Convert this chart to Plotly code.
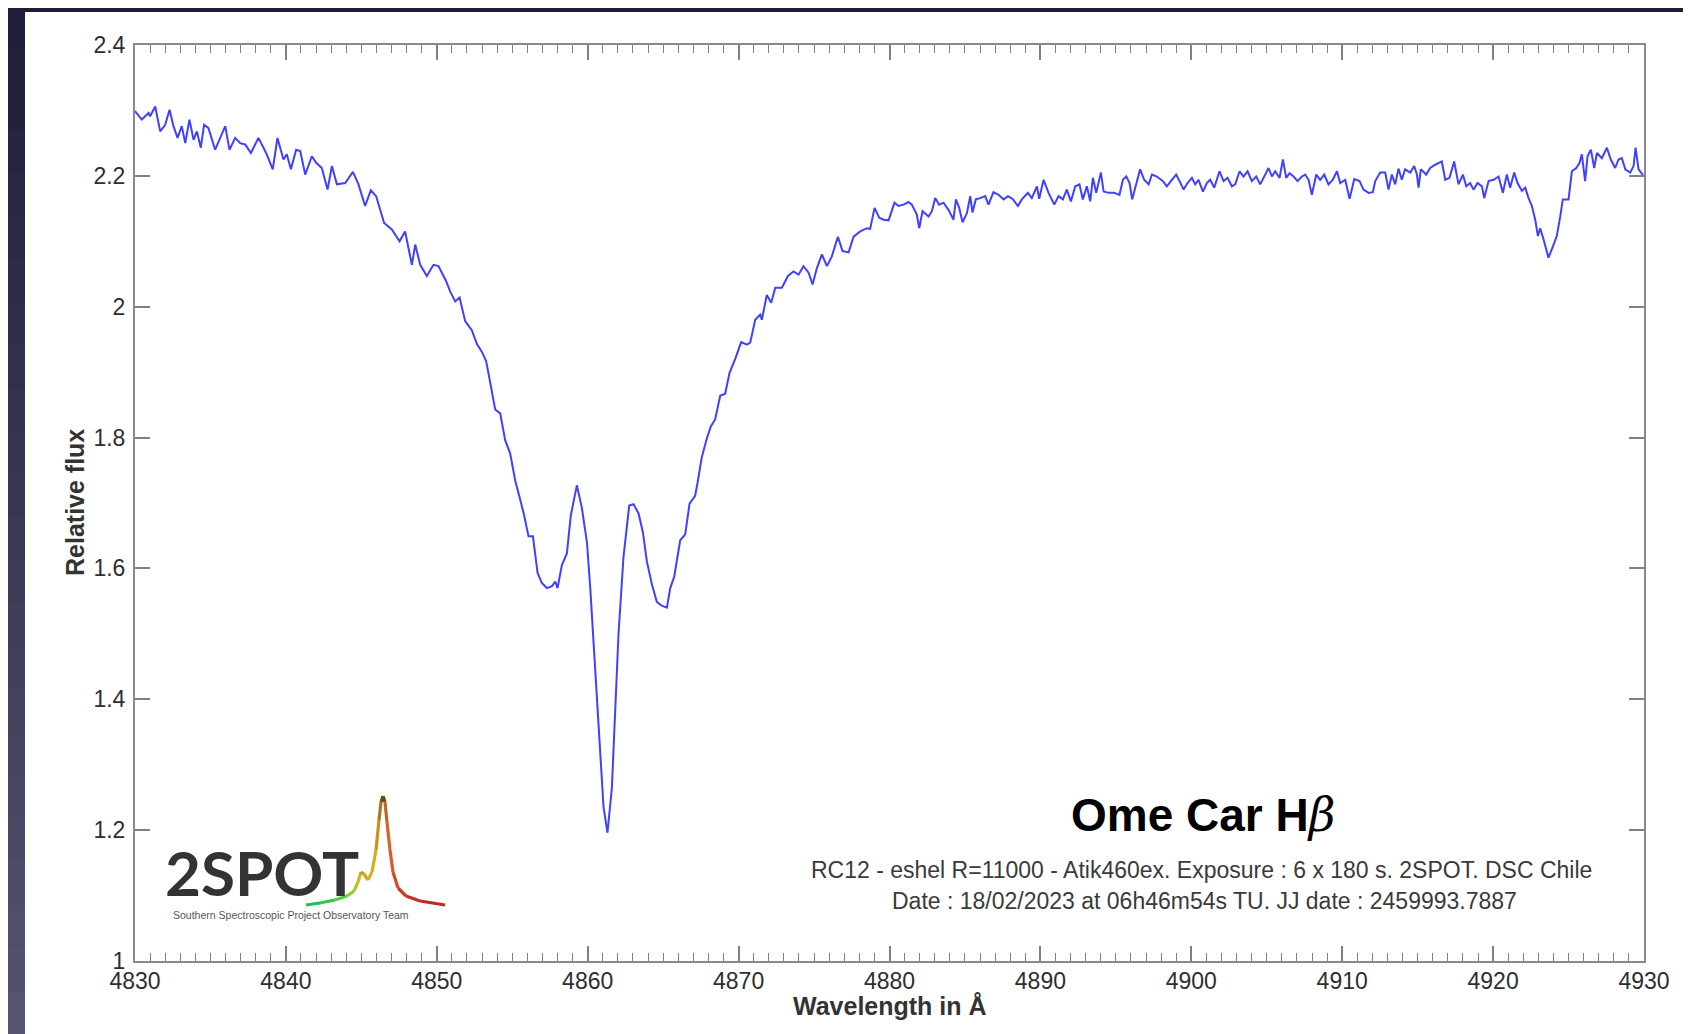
import plotly.graph_objects as go

# ---------------- data ----------------
wavelength = [
    4830.0, 4830.45, 4830.9, 4831.0, 4831.34, 4831.67, 4832.0, 4832.29, 4832.55, 4832.82,
    4833.1, 4833.33, 4833.61, 4833.88, 4834.1, 4834.36, 4834.58, 4834.87, 4835.31, 4835.98,
    4836.26, 4836.64, 4836.97, 4837.3, 4837.68, 4838.18, 4838.69, 4839.13, 4839.44, 4839.84,
    4840.06, 4840.33, 4840.68, 4840.95, 4841.28, 4841.72, 4842.01, 4842.38, 4842.76, 4843.05,
    4843.38, 4843.93, 4844.44, 4844.81, 4845.25, 4845.63, 4845.98, 4846.51, 4847.02, 4847.53,
    4847.9, 4848.35, 4848.57, 4848.9, 4849.34, 4849.78, 4850.11, 4850.62,
    4850.89, 4851.22, 4851.51, 4851.88, 4852.32, 4852.66, 4852.99, 4853.27, 4853.54, 4853.87,
    4854.2, 4854.53, 4854.86, 4855.2, 4855.53, 4855.79, 4856.08, 4856.37, 4856.68, 4856.96,
    4857.29, 4857.63, 4857.85, 4858.0, 4858.29, 4858.62, 4858.88, 4859.28, 4859.61, 4859.95,
    4860.17, 4860.43, 4860.72, 4861.05, 4861.31, 4861.6, 4861.82, 4862.04, 4862.37, 4862.75,
    4863.04, 4863.37, 4863.66, 4863.92, 4864.25, 4864.58, 4864.91, 4865.25, 4865.47, 4865.73,
    4866.13, 4866.46, 4866.75, 4867.12, 4867.28, 4867.56, 4867.9, 4868.16, 4868.45, 4868.78,
    4869.11, 4869.4, 4869.77,
    4870.17, 4870.55, 4870.77, 4871.1, 4871.43, 4871.54, 4871.87, 4872.16, 4872.43, 4872.87,
    4873.27, 4873.64, 4873.97, 4874.3, 4874.64, 4874.9, 4875.19, 4875.52, 4875.85, 4876.18,
    4876.58, 4876.89, 4877.29, 4877.62, 4878.06, 4878.5, 4878.72, 4879.01, 4879.32, 4879.61,
    4879.94, 4880.33, 4880.6, 4880.93, 4881.26, 4881.48, 4881.81, 4881.97, 4882.19, 4882.59,
    4882.81, 4883.03, 4883.29, 4883.58, 4883.91, 4884.24, 4884.4, 4884.62, 4884.84, 4885.13,
    4885.35, 4885.5, 4885.72, 4886.01, 4886.34, 4886.56, 4886.89, 4887.23, 4887.56, 4887.85,
    4888.15, 4888.51, 4888.77, 4889.17, 4889.43, 4889.77, 4889.92,
    4890.21, 4890.54, 4890.92, 4891.2, 4891.49, 4891.75, 4892.02, 4892.31, 4892.59, 4892.81,
    4893.08, 4893.3, 4893.48, 4893.7, 4894.01, 4894.19, 4894.52, 4894.89, 4895.24, 4895.47,
    4895.69, 4895.91, 4896.08, 4896.35, 4896.61, 4896.88, 4897.17, 4897.39, 4897.72, 4898.12,
    4898.38, 4898.71, 4899.0, 4899.22, 4899.49, 4899.75, 4900.04, 4900.26, 4900.48, 4900.77,
    4901.03, 4901.25, 4901.52, 4901.87, 4902.14, 4902.4, 4902.69, 4902.91, 4903.2, 4903.46,
    4903.73, 4904.01, 4904.3, 4904.57, 4904.83, 4905.12, 4905.34, 4905.56, 4905.85, 4906.07,
    4906.29, 4906.51, 4906.78, 4907.04, 4907.33, 4907.55, 4907.77, 4907.99, 4908.28, 4908.54,
    4908.81, 4909.09, 4909.38, 4909.65, 4909.87,
    4910.2, 4910.49, 4910.8, 4911.15, 4911.41, 4911.75, 4912.03, 4912.19, 4912.52, 4912.85,
    4913.07, 4913.29, 4913.51, 4913.73, 4913.95, 4914.17, 4914.51, 4914.77, 4914.95, 4915.06,
    4915.21, 4915.57, 4915.83, 4916.16, 4916.45, 4916.6, 4916.83, 4917.11, 4917.42, 4917.71,
    4918.0, 4918.22, 4918.48, 4918.7, 4918.97, 4919.26, 4919.41, 4919.7, 4920.03, 4920.36,
    4920.65, 4920.91, 4921.13, 4921.4, 4921.62, 4921.91, 4922.13, 4922.35, 4922.57, 4922.79,
    4922.97, 4923.12, 4923.34, 4923.67, 4923.96, 4924.22, 4924.45, 4924.62, 4925.0, 4925.22,
    4925.51, 4925.73, 4925.88, 4926.1, 4926.26, 4926.48, 4926.7, 4926.88, 4927.21, 4927.54,
    4927.8, 4928.09, 4928.31, 4928.53, 4928.76, 4929.09, 4929.31, 4929.44, 4929.64, 4929.93,
]

flux = [
    2.299, 2.286, 2.296, 2.291, 2.306, 2.268, 2.278, 2.301, 2.276, 2.258,
    2.276, 2.250, 2.286, 2.255, 2.268, 2.243, 2.278, 2.273, 2.240, 2.276,
    2.240, 2.258, 2.250, 2.248, 2.235, 2.258, 2.235, 2.210, 2.258, 2.225,
    2.233, 2.210, 2.240, 2.238, 2.202, 2.230, 2.220, 2.212, 2.179, 2.215,
    2.187, 2.189, 2.206, 2.187, 2.154, 2.178, 2.169, 2.128, 2.118, 2.100,
    2.115, 2.064, 2.095, 2.064, 2.047, 2.064, 2.062, 2.039,
    2.023, 2.008, 2.014, 1.978, 1.964, 1.943, 1.931, 1.917, 1.884, 1.843,
    1.837, 1.796, 1.776, 1.734, 1.705, 1.681, 1.649, 1.649, 1.593, 1.578,
    1.570, 1.573, 1.580, 1.570, 1.605, 1.623, 1.681, 1.727, 1.693, 1.640,
    1.570, 1.470, 1.352, 1.235, 1.196, 1.264, 1.381, 1.499, 1.617, 1.696,
    1.698, 1.684, 1.655, 1.611, 1.576, 1.549, 1.543, 1.540, 1.570, 1.587,
    1.643, 1.652, 1.699, 1.711, 1.731, 1.770, 1.799, 1.817, 1.828, 1.864,
    1.867, 1.899, 1.920,
    1.946, 1.942, 1.945, 1.980, 1.988, 1.980, 2.018, 2.006, 2.029, 2.029,
    2.047, 2.054, 2.049, 2.062, 2.052, 2.034, 2.059, 2.080, 2.062, 2.077,
    2.107, 2.085, 2.083, 2.107, 2.115, 2.120, 2.119, 2.151, 2.136, 2.133,
    2.132, 2.159, 2.154, 2.156, 2.160, 2.156, 2.141, 2.120, 2.146, 2.138,
    2.146, 2.166, 2.156, 2.159, 2.148, 2.133, 2.164, 2.151, 2.129, 2.143,
    2.169, 2.144, 2.164, 2.166, 2.169, 2.156, 2.175, 2.171, 2.164, 2.169,
    2.165, 2.154, 2.164, 2.174, 2.166, 2.184, 2.165,
    2.194, 2.174, 2.156, 2.169, 2.164, 2.179, 2.161, 2.184, 2.187, 2.164,
    2.184, 2.161, 2.197, 2.174, 2.205, 2.176, 2.174, 2.174, 2.171, 2.194,
    2.199, 2.189, 2.164, 2.189, 2.210, 2.194, 2.187, 2.202, 2.199, 2.192,
    2.184, 2.194, 2.202, 2.192, 2.179, 2.189, 2.197, 2.187, 2.194, 2.176,
    2.189, 2.194, 2.182, 2.207, 2.192, 2.197, 2.184, 2.187, 2.207, 2.199,
    2.207, 2.192, 2.199, 2.187, 2.199, 2.212, 2.199, 2.207, 2.197, 2.225,
    2.197, 2.204, 2.199, 2.192, 2.199, 2.202, 2.194, 2.171, 2.202, 2.194,
    2.202, 2.187, 2.194, 2.207, 2.189,
    2.194, 2.165, 2.195, 2.192, 2.179, 2.174, 2.175, 2.192, 2.205, 2.205,
    2.179, 2.202, 2.187, 2.211, 2.194, 2.210, 2.205, 2.215, 2.202, 2.182,
    2.210, 2.202, 2.212, 2.217, 2.220, 2.222, 2.194, 2.197, 2.222, 2.187,
    2.202, 2.184, 2.189, 2.179, 2.189, 2.184, 2.166, 2.192, 2.194, 2.199,
    2.174, 2.202, 2.182, 2.205, 2.189, 2.177, 2.182, 2.166, 2.154, 2.133,
    2.108, 2.120, 2.103, 2.075, 2.092, 2.108, 2.138, 2.164, 2.164, 2.207,
    2.212, 2.220, 2.233, 2.192, 2.230, 2.240, 2.212, 2.235, 2.227, 2.243,
    2.225, 2.212, 2.225, 2.227, 2.210, 2.205, 2.215, 2.243, 2.210, 2.201,
]

x_range = [4830, 4930]
y_range = [1.0, 2.4]
x_tick_vals = [4830, 4840, 4850, 4860, 4870, 4880, 4890, 4900, 4910, 4920, 4930]
y_tick_vals = [1.0, 1.2, 1.4, 1.6, 1.8, 2.0, 2.2, 2.4]
y_tick_text = ["1", "1.2", "1.4", "1.6", "1.8", "2", "2.2", "2.4"]

title_text = "Ome Car H"
info_line1 = "RC12 - eshel R=11000 - Atik460ex. Exposure : 6 x 180 s. 2SPOT. DSC Chile"
info_line2 = "Date : 18/02/2023 at 06h46m54s TU. JJ date : 2459993.7887"
x_title = "Wavelength in Å"
y_title = "Relative flux"
logo_text = "2SPOT"
logo_subtext = "Southern Spectroscopic Project Observatory Team"

# ---------------- layout geometry ----------------
# The page body has an 8 px margin, so the figure is drawn 8 px in from the
# window's top-left corner; all page-pixel positions below are corrected for it.
OFF = 8
W, H = 1691 - OFF, 1034 - OFF
M = dict(l=135 - OFF, r=47, t=45 - OFF, b=73)
PW = W - M["l"] - M["r"]
PH = H - M["t"] - M["b"]


def px(x):
    """page pixel x -> paper fraction"""
    return (x - OFF - M["l"]) / PW


def py(y):
    """page pixel y -> paper fraction"""
    return (H - M["b"] - (y - OFF)) / PH


AXIS_FONT = "Liberation Sans, Arial, Helvetica, sans-serif"

fig = go.Figure()
fig.add_trace(go.Scatter(
    x=wavelength, y=flux, mode="lines",
    line=dict(color="#4040ff", width=2),
    showlegend=False, hoverinfo="x+y",
))

shapes = []
# dark slide background strips (top and left)
shapes.append(dict(type="rect", xref="paper", yref="paper",
                   x0=px(0), x1=px(1700), y0=py(12), y1=py(0),
                   fillcolor="#1e1e38", line=dict(width=0), layer="above"))
n_bands = 24
for i in range(n_bands):
    y0 = 1034 * i / n_bands
    y1 = 1034 * (i + 1) / n_bands + 1
    f = i / (n_bands - 1)
    r = int(30 + f * (84 - 30))
    g = int(30 + f * (84 - 30))
    b = int(56 + f * (112 - 56))
    shapes.append(dict(type="rect", xref="paper", yref="paper",
                       x0=px(0), x1=px(25), y0=py(min(y1, 1040)), y1=py(y0),
                       fillcolor=f"rgb({r},{g},{b})", line=dict(width=0), layer="above"))

# 2SPOT logo spectrum squiggle (decoration)
logo_pts = [(306, 905), (320, 903), (335, 900), (347, 896), (354, 891), (358, 882),
            (361, 872), (364, 874), (368, 880), (372, 872), (376, 850), (379, 820),
            (381, 802), (383, 796), (385, 802), (387, 822), (390, 850), (393, 872),
            (398, 888), (406, 896), (420, 901), (445, 905)]
logo_cols = ["#1fbf5a", "#2fc94a", "#55d040", "#8ccc34", "#b8c42a", "#cdb428",
             "#b89a20", "#c9a826", "#d6b22a", "#d8aa24", "#c8921c", "#a8781a",
             "#6e4a12", "#6e4a12", "#b86a22", "#d0682a", "#d65a2c", "#d24a2a",
             "#cc3a28", "#c43026", "#bf2a24"]
for i in range(len(logo_pts) - 1):
    (xa, ya), (xb, yb) = logo_pts[i], logo_pts[i + 1]
    shapes.append(dict(type="line", xref="paper", yref="paper",
                       x0=px(xa), y0=py(ya), x1=px(xb), y1=py(yb),
                       line=dict(color=logo_cols[i], width=3.2), layer="above"))

annotations = [
    dict(text=title_text + "<span style='font-family:DejaVu Serif;font-weight:normal'><i>β</i></span>",
         x=px(1203), y=py(815), xref="paper", yref="paper", showarrow=False,
         xanchor="center", yanchor="middle",
         font=dict(family=AXIS_FONT, size=46, color="#000000", weight="bold")),
    dict(text=info_line1, x=px(1201), y=py(870), xref="paper", yref="paper",
         showarrow=False, xanchor="center", yanchor="middle",
         font=dict(family=AXIS_FONT, size=23, color="#3a3a3a")),
    dict(text=info_line2, x=px(1204), y=py(900.5), xref="paper", yref="paper",
         showarrow=False, xanchor="center", yanchor="middle",
         font=dict(family=AXIS_FONT, size=23, color="#3a3a3a")),
    dict(text=x_title, x=px(890), y=py(1006), xref="paper", yref="paper",
         showarrow=False, xanchor="center", yanchor="middle",
         font=dict(family=AXIS_FONT, size=25, color="#333333", weight="bold")),
    dict(text=y_title, x=px(75), y=py(503), xref="paper", yref="paper",
         showarrow=False, xanchor="center", yanchor="middle", textangle=-90,
         font=dict(family=AXIS_FONT, size=25, color="#333333", weight="bold")),
    dict(text=logo_text, x=px(262), y=py(872), xref="paper", yref="paper",
         showarrow=False, xanchor="center", yanchor="middle",
         font=dict(family="Lato, DejaVu Sans, sans-serif", size=62, color="#333333", weight="bold")),
    dict(text=logo_subtext, x=px(291), y=py(915), xref="paper", yref="paper",
         showarrow=False, xanchor="center", yanchor="middle",
         font=dict(family=AXIS_FONT, size=10.5, color="#555555")),
]

tick_font = dict(family=AXIS_FONT, size=23, color="#2e2e2e")

fig.update_layout(
    width=W, height=H,
    margin=dict(l=M["l"], r=M["r"], t=M["t"], b=M["b"], pad=0),
    paper_bgcolor="#ffffff", plot_bgcolor="#ffffff",
    shapes=shapes, annotations=annotations, showlegend=False,
    xaxis=dict(
        range=x_range, tickmode="array", tickvals=x_tick_vals,
        ticks="inside", ticklen=15, tickwidth=1.5, tickcolor="#808080",
        showline=True, linecolor="#8a8a8a", linewidth=2, mirror="ticks",
        showgrid=False, zeroline=False, tickfont=tick_font,
        ticklabelstandoff=-2,
        minor=dict(ticks="inside", ticklen=8, tickwidth=1.2, tickcolor="#808080",
                   dtick=1, tick0=4830, showgrid=False),
    ),
    yaxis=dict(
        range=y_range, tickmode="array", tickvals=y_tick_vals, ticktext=y_tick_text,
        ticks="inside", ticklen=15, tickwidth=1.5, tickcolor="#808080",
        showline=True, linecolor="#8a8a8a", linewidth=2, mirror="ticks",
        showgrid=False, zeroline=False, tickfont=tick_font,
        ticklabelstandoff=3,
    ),
)

fig.write_html("out.html")
